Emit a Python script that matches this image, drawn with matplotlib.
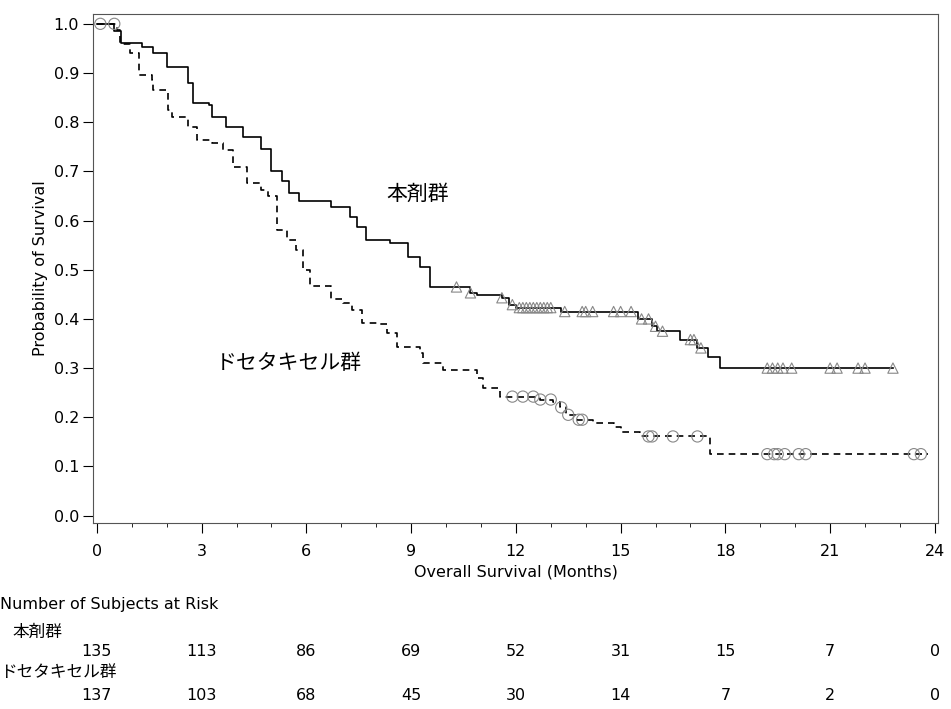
import numpy as np
import matplotlib
matplotlib.use("Agg")
import matplotlib.pyplot as plt
from matplotlib.ticker import MultipleLocator

plt.rcParams['font.family'] = ['Noto Sans CJK JP', 'DejaVu Sans']
LAT = ['DejaVu Sans']

# Treatment (本剤群) step curve
t_time = [0, 0.5, 0.7, 1.3, 1.6, 2.0, 2.6, 2.75, 3.2, 3.3, 3.7, 4.2, 4.7, 5.0, 5.3, 5.5, 5.8, 6.7, 7.25, 7.45, 7.7,
          8.4, 8.9, 9.25, 9.55, 10.7, 10.9, 11.6, 11.8, 12.0, 13.3, 15.5, 15.9, 16.05, 16.7, 17.2, 17.5, 17.85, 22.8]
t_surv = [1.0, 0.985, 0.961, 0.953, 0.94, 0.913, 0.88, 0.84, 0.835, 0.81, 0.79, 0.77, 0.745, 0.70, 0.68, 0.657, 0.64, 0.628, 0.608, 0.587, 0.56,
          0.555, 0.526, 0.506, 0.465, 0.453, 0.449, 0.443, 0.429, 0.423, 0.415, 0.40, 0.385, 0.375, 0.358, 0.341, 0.323, 0.30, 0.30]
t_cens = [10.3, 10.7, 11.6, 11.9, 12.1, 12.2, 12.3, 12.4, 12.5, 12.6, 12.7, 12.8, 12.9, 13.0, 13.4, 13.9, 14.0, 14.2,
          14.8, 15.0, 15.3, 15.6, 15.8, 16.0, 16.2, 17.0, 17.1, 17.3, 19.2, 19.35, 19.5, 19.65, 19.9, 21.0, 21.2, 21.8, 22.0, 22.8]

# Docetaxel (ドセタキセル群) step curve
d_time = [0, 0.57, 0.66, 0.95, 1.2, 1.57, 1.6, 2.03, 2.15, 2.6, 2.87, 3.3, 3.6, 3.9, 4.3, 4.7, 4.9, 5.15, 5.45, 5.7, 5.9, 6.1,
          6.7, 7.05, 7.3, 7.6, 8.1, 8.3, 8.6, 9.25, 9.35, 9.9, 10.9, 11.05, 11.55, 12.7, 13.07, 13.27, 13.45, 13.75, 14.2, 14.8, 15.0, 15.55, 17.56, 23.8]
d_surv = [1.0, 0.988, 0.96, 0.94, 0.896, 0.886, 0.866, 0.825, 0.81, 0.79, 0.764, 0.758, 0.744, 0.709, 0.677, 0.663, 0.65, 0.58, 0.56, 0.54, 0.50, 0.466,
          0.44, 0.433, 0.419, 0.392, 0.389, 0.372, 0.343, 0.331, 0.311, 0.297, 0.28, 0.26, 0.242, 0.236, 0.232, 0.22, 0.205, 0.195, 0.189, 0.181, 0.171, 0.161, 0.125, 0.125]
d_cens = [0.1, 0.5, 11.9, 12.2, 12.5, 12.7, 13.0, 13.3, 13.5, 13.8, 13.9, 15.8, 15.9, 16.5, 17.2,
          19.2, 19.4, 19.5, 19.7, 20.1, 20.3, 23.4, 23.6]

xticks = [0, 3, 6, 9, 12, 15, 18, 21, 24]
risk_t = [135, 113, 86, 69, 52, 31, 15, 7, 0]
risk_d = [137, 103, 68, 45, 30, 14, 7, 2, 0]

def step_at(times, surv, x):
    idx = np.searchsorted(times, x, side='right') - 1
    return np.asarray(surv)[idx]

AX_BOTTOM = 1 - 523/709
AX_TOP = 1 - 14/709
AX_H = AX_TOP - AX_BOTTOM
fig = plt.figure(figsize=(9.51, 7.09), dpi=100)
ax = fig.add_axes([93/951, AX_BOTTOM, 845/951, AX_H])
ax.step(t_time, t_surv, where='post', color='black', lw=1.2)
ax.step(d_time, d_surv, where='post', color='black', lw=1.2, ls=(0, (4, 3)))
ax.scatter(t_cens, step_at(t_time, t_surv, t_cens), marker='^', s=55, facecolors='none', edgecolors='#888888', lw=0.8, zorder=3)
ax.scatter(d_cens, step_at(d_time, d_surv, d_cens), marker='o', s=65, facecolors='none', edgecolors='#888888', lw=0.8, zorder=3)

ax.set_xlim(-0.11, 24.09)
ax.set_ylim(-0.015, 1.02)
ax.set_xticks(xticks)
ax.xaxis.set_minor_locator(MultipleLocator(1))
yt = np.arange(0, 1.01, 0.1)
ax.set_yticks(yt)
ax.set_yticklabels([f"{v:.1f}" for v in yt])
ax.tick_params(which='major', labelsize=11.5, direction='out', length=7, pad=8)
ax.tick_params(axis='y', pad=3)
ax.tick_params(which='minor', direction='out', length=3)
for lab in ax.get_xticklabels() + ax.get_yticklabels():
    lab.set_family(LAT)
for s in ax.spines.values():
    s.set_color('#555555')
ax.set_xlabel("Overall Survival (Months)", fontsize=11.5, family=LAT, labelpad=4)
ax.set_ylabel("Probability of Survival", fontsize=11.5, family=LAT)

ax.text(9.2, 0.655, "本剤群", fontsize=15, ha='center', va='center')
ax.text(5.5, 0.31, "ドセタキセル群", fontsize=15, ha='center', va='center')

fig.text(0.0, 1 - 604/709, "Number of Subjects at Risk", fontsize=11.5, va='center', family=LAT)
fig.text(12/951, 1 - 632/709, "本剤群", fontsize=12, va='center')
fig.text(0.0, 1 - 673/709, "ドセタキセル群", fontsize=12, va='center')

trans = ax.get_xaxis_transform()
def fig_to_axes_y(fy):
    return (fy - AX_BOTTOM) / AX_H
for x, a, b in zip(xticks, risk_t, risk_d):
    ax.text(x, fig_to_axes_y(1 - 652/709), str(a), transform=trans, fontsize=11.5, ha='center', va='center',
            family=LAT, clip_on=False)
    ax.text(x, fig_to_axes_y(1 - 695/709), str(b), transform=trans, fontsize=11.5, ha='center', va='center',
            family=LAT, clip_on=False)

fig.savefig("out.png", dpi=100)
